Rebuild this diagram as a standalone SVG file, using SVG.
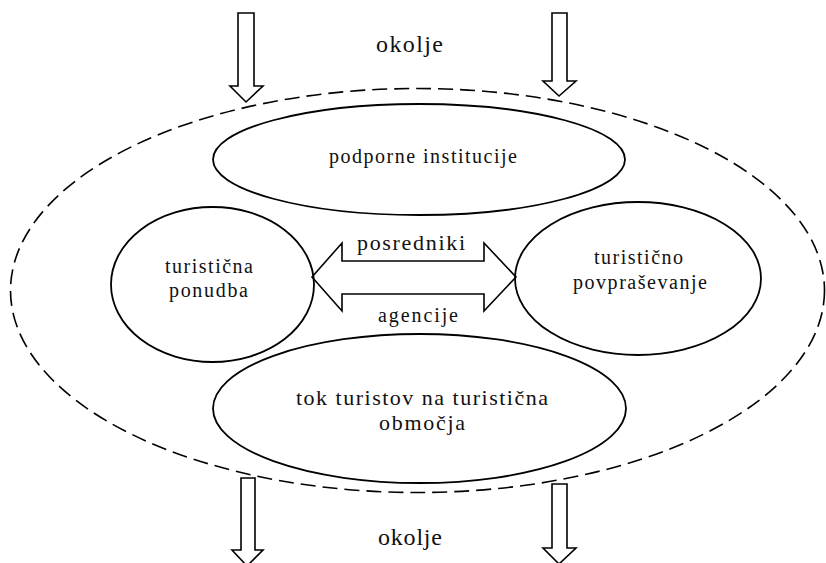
<svg xmlns="http://www.w3.org/2000/svg" width="826" height="563" viewBox="0 0 826 563" font-family="'Liberation Serif', 'DejaVu Serif', serif">
<style>
text{font-family:"Liberation Serif","DejaVu Serif",serif;fill:#111;text-anchor:middle}
.node{fill:none;stroke:#000;stroke-width:1.8}
.env{fill:none;stroke:#000;stroke-width:1.6;stroke-dasharray:15 7}
.blk{fill:#fff;stroke:#000;stroke-width:1.6;stroke-linejoin:miter}
.dbl{fill:none;stroke:#000;stroke-width:1.6}
</style>
<rect width="826" height="563" fill="#fff"/>
<g id="okolje-system">
<ellipse class="env" cx="417.5" cy="290.5" rx="407" ry="202"/>
</g>
<g id="podporne-institucije">
<ellipse class="node" cx="419" cy="159.5" rx="206" ry="55.5"/>
<text x="423" y="163" font-size="20" textLength="188" lengthAdjust="spacing">podporne institucije</text>
</g>
<g id="turisticna-ponudba">
<ellipse class="node" cx="212.5" cy="284.5" rx="101.5" ry="77.5"/>
<text x="209" y="273" font-size="20" textLength="88" lengthAdjust="spacing">turistična</text>
<text x="208.5" y="297" font-size="20" textLength="79" lengthAdjust="spacing">ponudba</text>
</g>
<g id="turisticno-povprasevanje">
<ellipse class="node" cx="638" cy="278.5" rx="123" ry="76.5"/>
<text x="638.5" y="264" font-size="20" textLength="89" lengthAdjust="spacing">turistično</text>
<text x="640" y="289" font-size="20" textLength="134" lengthAdjust="spacing">povpraševanje</text>
</g>
<g id="tok-turistov">
<ellipse class="node" cx="419.5" cy="408.5" rx="206.5" ry="74.5"/>
<text x="422" y="405" font-size="22" textLength="252" lengthAdjust="spacing">tok turistov na turistična</text>
<text x="422" y="430" font-size="22" textLength="86" lengthAdjust="spacing">območja</text>
</g>
<g id="connectors">
<polygon class="blk" points="238,13 254,13 254,86 263,86 246,102 230,86 238,86"/>
<polygon class="blk" points="552,13 567,13 567,81 576,81 559,96 543,81 552,81"/>
<polygon class="blk" points="241,478 255,478 255,550 263,550 247,566 232,550 241,550"/>
<polygon class="blk" points="552,484 567,484 567,548 576,548 559,564 543,548 552,548"/>
<polygon class="dbl" points="312,277 342,243 342,261 484,261 484,243 516,277 484,311 484,294 342,294 342,311"/>
<text x="411" y="250" font-size="22" textLength="108" lengthAdjust="spacing">posredniki</text>
<text x="418" y="322" font-size="20" textLength="80" lengthAdjust="spacing">agencije</text>
</g>
<g id="labels">
<text x="409.5" y="52" font-size="24" textLength="67" lengthAdjust="spacing">okolje</text>
<text x="410" y="545" font-size="24" textLength="64" lengthAdjust="spacing">okolje</text>
</g>
</svg>
